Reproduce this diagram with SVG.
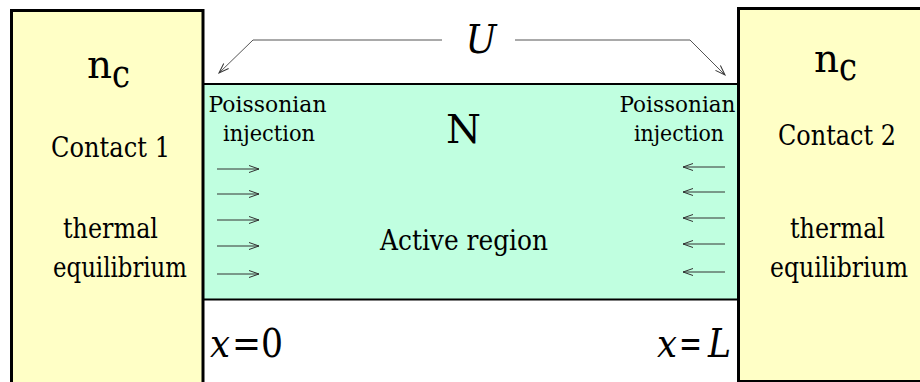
<svg xmlns="http://www.w3.org/2000/svg" width="920" height="382" viewBox="0 0 920 382">
  <defs>
    <marker id="open" markerWidth="12" markerHeight="10" refX="11" refY="5" orient="auto" markerUnits="userSpaceOnUse">
      <path d="M1,1.5 L11,5 L1,8.5" fill="none" stroke="#333" stroke-width="1"/>
    </marker>
    <style>
      text { font-family: "DejaVu Serif", "Liberation Serif", serif; fill: #000; }
      .contact { fill: #FFFFC6; stroke: #000; stroke-width: 3; }
      .label { font-size: 27px; text-anchor: middle; }
      .small { font-size: 23px; text-anchor: middle; }
      .big { font-size: 40px; }
      .ital { font-style: italic; }
      .flow { stroke: #333; stroke-width: 1; fill: none; marker-end: url(#open); }
      .bias { stroke: #555; stroke-width: 1; fill: none; marker-end: url(#open); }
    </style>
  </defs>

  <rect width="920" height="382" fill="#fff"/>

  <!-- active region between the contacts -->
  <g id="active">
    <rect x="203" y="84" width="536" height="215.5" fill="#C0FFE0"/>
    <line x1="203" y1="84" x2="739" y2="84" stroke="#000" stroke-width="2"/>
    <line x1="203" y1="299.5" x2="739" y2="299.5" stroke="#000" stroke-width="2"/>
    <text x="463.5" y="143" class="big" text-anchor="middle" textLength="35" lengthAdjust="spacingAndGlyphs">N</text>
    <text x="464" y="250" class="label" textLength="168" lengthAdjust="spacingAndGlyphs">Active region</text>
    <text x="267.5" y="112" class="small" textLength="118" lengthAdjust="spacingAndGlyphs">Poissonian</text>
    <text x="269" y="141" class="small" textLength="92" lengthAdjust="spacingAndGlyphs">injection</text>
    <text x="677.5" y="112" class="small" textLength="116" lengthAdjust="spacingAndGlyphs">Poissonian</text>
    <text x="679" y="141" class="small" textLength="90" lengthAdjust="spacingAndGlyphs">injection</text>
  </g>

  <!-- left contact -->
  <g id="contact1">
    <rect x="11.5" y="10.5" width="191.5" height="390" class="contact"/>
    <text x="87" y="78" class="big" textLength="25" lengthAdjust="spacingAndGlyphs">n</text>
    <text x="112" y="87" class="big" textLength="18" lengthAdjust="spacingAndGlyphs">c</text>
    <text x="110.5" y="157" class="label" textLength="119" lengthAdjust="spacingAndGlyphs">Contact 1</text>
    <text x="110.5" y="238" class="label" textLength="95" lengthAdjust="spacingAndGlyphs">thermal</text>
    <text x="120" y="277" class="label" textLength="134" lengthAdjust="spacingAndGlyphs">equilibrium</text>
  </g>

  <!-- right contact -->
  <g id="contact2">
    <rect x="738.5" y="8.5" width="200" height="373" class="contact"/>
    <text x="814" y="72" class="big" textLength="25" lengthAdjust="spacingAndGlyphs">n</text>
    <text x="839" y="80" class="big" textLength="18" lengthAdjust="spacingAndGlyphs">c</text>
    <text x="837" y="145" class="label" textLength="118" lengthAdjust="spacingAndGlyphs">Contact 2</text>
    <text x="837.5" y="238" class="label" textLength="95" lengthAdjust="spacingAndGlyphs">thermal</text>
    <text x="839" y="277" class="label" textLength="138" lengthAdjust="spacingAndGlyphs">equilibrium</text>
  </g>

  <!-- applied bias and the two boundary coordinates -->
  <g id="bias">
    <text x="481" y="53" class="big ital" text-anchor="middle" textLength="31" lengthAdjust="spacingAndGlyphs">U</text>
    <text x="210" y="357" class="big ital" textLength="20" lengthAdjust="spacingAndGlyphs">x</text>
    <text x="232" y="357" class="big" textLength="51" lengthAdjust="spacingAndGlyphs">=0</text>
    <text x="657" y="357" class="big ital" textLength="20" lengthAdjust="spacingAndGlyphs">x</text>
    <text x="679" y="357" class="big" textLength="23" lengthAdjust="spacingAndGlyphs">=</text>
    <text x="708" y="357" class="big ital" textLength="23" lengthAdjust="spacingAndGlyphs">L</text>
  </g>

  <g id="connectors">
    <polyline class="bias" points="442,40 253,40 219,73"/>
    <polyline class="bias" points="515,40 690,40 725,75"/>
    <line class="flow" x1="217" y1="169" x2="259" y2="169"/>
    <line class="flow" x1="217" y1="194" x2="259" y2="194"/>
    <line class="flow" x1="217" y1="220" x2="259" y2="220"/>
    <line class="flow" x1="217" y1="246" x2="259" y2="246"/>
    <line class="flow" x1="217" y1="274" x2="259" y2="274"/>
    <line class="flow" x1="725" y1="167" x2="683" y2="167"/>
    <line class="flow" x1="725" y1="192" x2="683" y2="192"/>
    <line class="flow" x1="725" y1="218" x2="683" y2="218"/>
    <line class="flow" x1="725" y1="244" x2="683" y2="244"/>
    <line class="flow" x1="725" y1="272" x2="683" y2="272"/>
  </g>
</svg>
